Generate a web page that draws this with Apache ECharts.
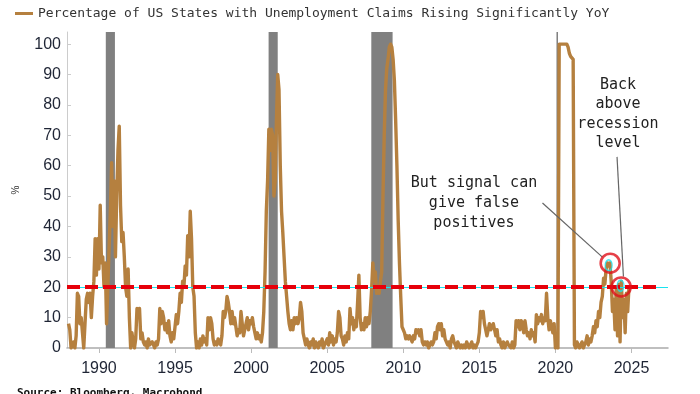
<!DOCTYPE html>
<html><head><meta charset="utf-8">
<script src="https://cdn.jsdelivr.net/npm/echarts@6/dist/echarts.min.js"></script>
<style>html,body{margin:0;padding:0;background:#fff}#c{width:700px;height:394px}</style>
</head><body><div id="c"></div>
<script>
const seriesName = 'Percentage of US States with Unemployment Claims Rising Significantly YoY';
const startYear = 1988; // monthly values from Jan 1988
const pctRising = [
  8,6,0,0,2,0,4,18,17,8,10,5,          // 1988
  0,8,16,18,15,18,10,17,22,36,24,36,   // 1989
  26,47,28,30,20,28,8,20,33,45,61,40,  // 1990
  55,30,50,65,73,47,35,38,30,20,17,26, // 1991
  10,0,5,2,0,3,13,10,13,3,5,2,         // 1992
  1,2,0,3,1,1,2,1,0,2,1,3,             // 1993
  13,8,12,10,6,8,5,9,4,2,5,3,          // 1994
  3,11,8,12,18,15,22,20,27,24,37,30,   // 1995
  45,36,20,17,5,0,2,0,3,1,4,2,         // 1996
  3,1,10,6,10,8,3,1,2,1,3,2,           // 1997
  1,4,12,10,12,17,15,12,8,12,8,10,     // 1998
  7,4,6,5,12,8,4,6,8,10,6,9,           // 1999
  8,10,7,5,3,5,3,4,2,5,12,25,          // 2000
  45,55,72,65,72,70,50,55,75,90,85,60, // 2001
  45,38,30,22,17,12,8,6,9,6,10,8,      // 2002
  10,8,10,15,12,5,3,1,3,1,0,2,         // 2003
  1,3,0,2,1,0,2,1,3,0,1,2,             // 2004
  3,1,5,2,4,1,3,2,5,12,10,4,           // 2005
  3,1,4,2,5,3,13,8,10,6,9,7,           // 2006
  15,24,10,6,8,6,10,7,10,8,12,19,      // 2007
  28,22,25,18,20,18,22,25,50,70,85,92, // 2008
  95,99,100,99,95,88,75,60,42,28,17,7, // 2009
  6,5,3,4,3,4,3,2,4,3,6,5,             // 2010
  6,4,6,2,1,2,1,2,0,1,2,1,             // 2011
  2,5,3,7,8,6,8,4,6,3,2,1,             // 2012
  2,0,3,4,2,1,0,2,1,0,1,0,             // 2013
  1,0,2,1,0,1,2,0,1,0,1,2,             // 2014
  5,12,10,12,8,6,4,6,8,6,7,8,          // 2015
  6,4,6,2,3,1,0,2,0,1,2,1,             // 2016
  1,0,2,0,1,9,7,9,6,9,8,5,             // 2017
  9,6,4,5,3,6,4,5,2,11,8,10,           // 2018
  9,11,8,10,9,18,10,6,9,7,5,8,         // 2019
  0,1,0,100,100,100,100,100,100,100,99,97, // 2020
  96,96,95,1,0,2,1,0,1,2,0,1,          // 2021
  2,4,1,3,2,4,7,5,9,7,12,10,           // 2022
  15,17,23,21,26,28,27,28,22,12,16,6,  // 2023
  20,4,21,2,22,10,16,5,18,12,20        // 2024
];
const recessions = [[1990.45, 1991.05], [2001.15, 2001.75], [2007.9, 2009.3], [2020.07, 2020.17]];
const xTicks = [1990, 1995, 2000, 2005, 2010, 2015, 2020, 2025];
const yTicks = [0, 10, 20, 30, 40, 50, 60, 70, 80, 90, 100];
const recessionLevel = 20;
const highlights = [[2023.6, 27.9], [2024.32, 20.1]];
const leaders = [[[2019.15, 47.7], [2023.09, 29.9]], [[2024.05, 62.9], [2024.47, 23.5]]];

const xMin = 1987.9, xMax = 2027.4;
const lineData = pctRising.map((v, i) => [startYear + i / 12, v]);

const chart = echarts.init(document.getElementById('c'), null, {renderer: 'canvas'});
const mono = 'DejaVu Sans Mono';
chart.setOption({
  animation: false,
  backgroundColor: '#ffffff',
  legend: {
    data: [seriesName], left: 10, top: 2, icon: 'rect', itemWidth: 18, itemHeight: 3, itemGap: 4,
    textStyle: {fontFamily: mono, fontSize: 13, color: '#333'}
  },
  grid: {left: 67, right: 32, top: 32, bottom: 46},
  xAxis: {
    type: 'value', min: xMin, max: xMax,
    axisLine: {show: true, lineStyle: {color: '#aaaaaa', width: 1.5}},
    axisTick: {show: true, customValues: xTicks, length: 5, lineStyle: {color: '#bbbbbb'}},
    axisLabel: {customValues: xTicks, formatter: v => String(v), color: '#1f2535', fontSize: 16,
      fontFamily: 'Liberation Sans', margin: 13},
    splitLine: {show: false}
  },
  yAxis: {
    type: 'value', min: 0, max: 104,
    name: '%', nameLocation: 'middle', nameRotate: 90, nameGap: 46,
    nameTextStyle: {fontSize: 10, color: '#333', fontFamily: 'Liberation Sans'},
    axisLine: {show: true, lineStyle: {color: '#cccccc', width: 1}},
    axisTick: {show: true, inside: true, customValues: yTicks, length: 4, lineStyle: {color: '#cccccc'}},
    axisLabel: {customValues: yTicks, formatter: v => String(v), color: '#1f2535', fontSize: 16,
      fontFamily: 'Liberation Sans', margin: 6},
    splitLine: {show: false}
  },
  series: [
    {
      name: 'recessions', type: 'line', data: [], z: 1, silent: true,
      markArea: {silent: true, itemStyle: {color: '#808080', opacity: 1},
        data: recessions.map(r => [{xAxis: r[0]}, {xAxis: r[1]}])}
    },
    {
      name: 'levelBase', type: 'line', data: [], z: 2, silent: true,
      markLine: {silent: true, symbol: ['none', 'none'], label: {show: false},
        lineStyle: {color: '#19e3f0', width: 1.2, type: 'solid'},
        data: [{yAxis: recessionLevel}]}
    },
    {
      name: seriesName, type: 'line', data: lineData, z: 3, showSymbol: false,
      color: '#B5803F', lineStyle: {color: '#B5803F', width: 3.4, join: 'round'}
    },
    {
      name: 'level', type: 'line', data: [], z: 4, silent: true,
      markLine: {silent: true, symbol: ['none', 'none'], label: {show: false},
        lineStyle: {color: '#e6000a', width: 4, type: [13, 5]},
        data: [[{coord: [xMin, recessionLevel]}, {coord: [2026.8, recessionLevel]}]]}
    },
    {
      name: 'leaders', type: 'line', data: [], z: 5, silent: true,
      markLine: {silent: true, symbol: ['none', 'none'], label: {show: false},
        lineStyle: {color: '#666666', width: 1.2, type: 'solid'},
        data: leaders.map(l => [{coord: l[0]}, {coord: l[1]}])}
    },
    {
      name: 'cyanMarks', type: 'scatter', z: 6, silent: true,
      data: [[2023.5, 27.2], [2024.28, 20.5]], symbolSize: [7, 11],
      itemStyle: {color: 'rgba(0,0,0,0)', borderColor: '#19e3f0', borderWidth: 1.5}
    },
    {
      name: 'circles', type: 'scatter', z: 7, silent: true,
      data: highlights, symbolSize: 19,
      itemStyle: {color: 'rgba(0,0,0,0)', borderColor: '#e0101a', borderWidth: 2.6}
    }
  ],
  graphic: [
    {type: 'text', x: 474, y: 173, z: 10, style: {text: 'But signal can\ngive false\npositives',
      font: '15px "DejaVu Sans Mono"', fill: '#222', textAlign: 'center', lineHeight: 20}},
    {type: 'text', x: 618, y: 75, z: 10, style: {text: 'Back\nabove\nrecession\nlevel',
      font: '15px "DejaVu Sans Mono"', fill: '#222', textAlign: 'center', lineHeight: 19.5}},
    {type: 'text', x: 17, y: 388, z: 10, style: {text: 'Source: Bloomberg, Macrobond',
      font: 'bold 11px "DejaVu Sans Mono"', fill: '#111', textAlign: 'left'}}
  ]
});
</script></body></html>
